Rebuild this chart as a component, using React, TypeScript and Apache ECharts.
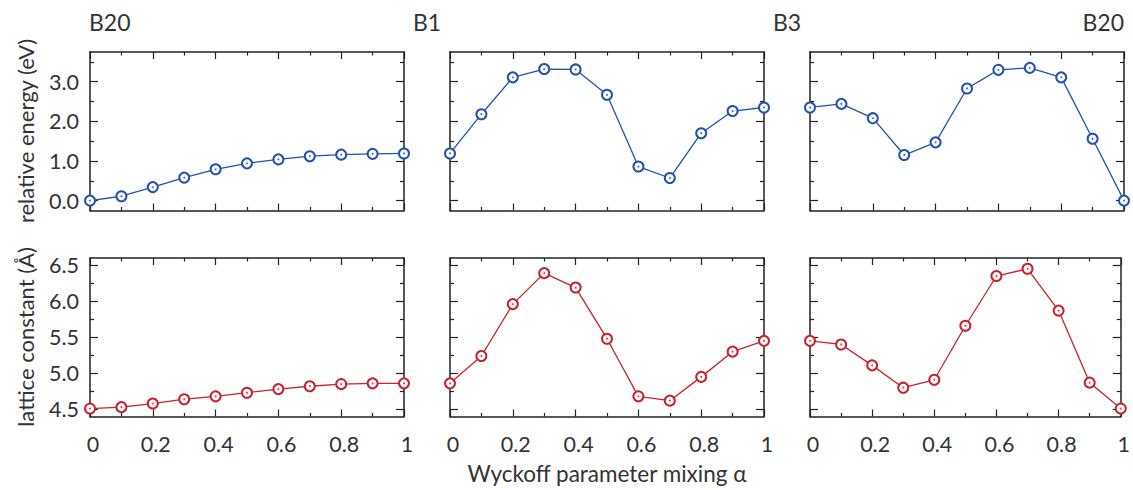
import React, { useEffect, useRef } from "react";
import * as echarts from "echarts";

const alpha = [0, 0.1, 0.2, 0.3, 0.4, 0.5, 0.6, 0.7, 0.8, 0.9, 1.0];

const energyB20B1 = [0.0, 0.11, 0.34, 0.58, 0.79, 0.94, 1.04, 1.12, 1.16, 1.18, 1.19];
const energyB1B3 = [1.19, 2.18, 3.11, 3.32, 3.31, 2.67, 0.86, 0.57, 1.7, 2.26, 2.35];
const energyB3B20 = [2.35, 2.44, 2.08, 1.15, 1.47, 2.83, 3.3, 3.35, 3.11, 1.56, 0.0];

const latticeB20B1 = [4.51, 4.53, 4.58, 4.64, 4.68, 4.73, 4.78, 4.82, 4.85, 4.86, 4.86];
const latticeB1B3 = [4.86, 5.24, 5.96, 6.39, 6.19, 5.48, 4.68, 4.62, 4.95, 5.3, 5.45];
const latticeB3B20 = [5.45, 5.4, 5.11, 4.8, 4.91, 5.66, 6.35, 6.45, 5.87, 4.87, 4.51];

const energyMajor = [0, 1, 2, 3];
const energyMinor = [0.5, 1.5, 2.5, 3.5];
const latticeMajor = [4.5, 5.0, 5.5, 6.0, 6.5];
const latticeMinor = [4.75, 5.25, 5.75, 6.25];

const phaseLabels = ["B20", "B1", "B3", "B20"];
const yTitles = ["relative energy (eV)", "lattice constant (Å)"];
const xTitle = "Wyckoff parameter mixing α";

const FONT = "Lato, 'Open Sans', sans-serif";
const TEXT = "#333333";
const AXIS = "#222222";
const BLUE = "#2152ad";
const RED = "#c8222c";

const colLefts = [90, 450, 810];
const colWidth = 314;
const rowTops = [52, 258];
const rowHeight = 158.5;

export default function App() {
  const ref = useRef<HTMLDivElement>(null);

  useEffect(() => {
    if (!ref.current) return;
    const chart = echarts.init(ref.current, undefined, { renderer: "svg" });

    const rows = [
      {
        data: [energyB20B1, energyB1B3, energyB3B20],
        min: -0.25,
        max: 3.75,
        major: energyMajor,
        minor: energyMinor,
        color: BLUE,
        fmt: (v: number) => v.toFixed(1),
      },
      {
        data: [latticeB20B1, latticeB1B3, latticeB3B20],
        min: 4.4,
        max: 6.6,
        major: latticeMajor,
        minor: latticeMinor,
        color: RED,
        fmt: (v: number) => v.toFixed(1),
      },
    ];

    const grid: any[] = [];
    const xAxis: any[] = [];
    const yAxis: any[] = [];
    const series: any[] = [];

    rows.forEach((row, r) => {
      row.data.forEach((vals, c) => {
        const g = grid.length;
        grid.push({
          left: colLefts[c],
          top: rowTops[r],
          width: colWidth,
          height: rowHeight,
          containLabel: false,
        });
        const xIdx = xAxis.length;
        ["bottom", "top"].forEach((pos) => {
          xAxis.push({
            type: "value",
            gridIndex: g,
            position: pos,
            min: 0,
            max: 1,
            interval: 0.2,
            axisLine: { show: true, onZero: false, lineStyle: { color: AXIS, width: 1.5 } },
            axisTick: { show: true, inside: true, length: 7, lineStyle: { color: AXIS, width: 1.2 } },
            minorTick: { show: true, splitNumber: 2, length: 3.5, lineStyle: { color: AXIS, width: 1.2 } },
            splitLine: { show: false },
            minorSplitLine: { show: false },
            axisLabel: {
              show: pos === "bottom" && r === 1,
              margin: 16,
              fontSize: 21.5,
              color: TEXT,
              fontFamily: FONT,
              padding: [0, 0, 0, 6],
              formatter: (v: number) => {
                const k = Math.round(v * 10);
                if (k === 0) return "0";
                if (k === 10) return "1";
                return (k / 10).toFixed(1);
              },
            },
          });
        });
        const yIdx = yAxis.length;
        ["left", "right"].forEach((pos) => {
          yAxis.push({
            type: "value",
            gridIndex: g,
            position: pos,
            min: row.min,
            max: row.max,
            axisLine: { show: true, onZero: false, lineStyle: { color: AXIS, width: 1.5 } },
            axisTick: {
              show: true,
              inside: true,
              length: 8,
              customValues: row.major,
              lineStyle: { color: AXIS, width: 1.2 },
            },
            splitLine: { show: false },
            axisLabel: {
              show: pos === "left" && c === 0,
              customValues: row.major,
              margin: 11,
              fontSize: 21.5,
              color: TEXT,
              fontFamily: FONT,
              formatter: row.fmt,
            },
          });
        });
        ["left", "right"].forEach((pos) => {
          yAxis.push({
            type: "value",
            gridIndex: g,
            position: pos,
            min: row.min,
            max: row.max,
            axisLine: { show: false, onZero: false },
            axisTick: {
              show: true,
              inside: true,
              length: 4,
              customValues: row.minor,
              lineStyle: { color: AXIS, width: 1.2 },
            },
            splitLine: { show: false },
            axisLabel: { show: false },
          });
        });
        const pts = alpha.map((a, i) => [a, vals[i]]);
        series.push({
          type: "line",
          xAxisIndex: xIdx,
          yAxisIndex: yIdx,
          data: pts,
          clip: false,
          symbol: "emptyCircle",
          symbolSize: 10,
          showAllSymbol: true,
          lineStyle: { color: row.color, width: 1.3 },
          itemStyle: { color: row.color, borderColor: row.color, borderWidth: 1.5 },
          z: 3,
        });
        series.push({
          type: "scatter",
          xAxisIndex: xIdx,
          yAxisIndex: yIdx,
          data: pts,
          clip: false,
          symbol: "circle",
          symbolSize: 2,
          itemStyle: { color: row.color },
          z: 4,
        });
      });
    });

    const titleFont = `23px ${FONT}`;
    const nameFont = `22px ${FONT}`;
    const graphic: any[] = [
      {
        type: "text",
        x: 89,
        y: 22,
        style: { text: phaseLabels[0], font: titleFont, fill: TEXT, textAlign: "left", textVerticalAlign: "middle" },
      },
      {
        type: "text",
        x: 427,
        y: 22,
        style: { text: phaseLabels[1], font: titleFont, fill: TEXT, textAlign: "center", textVerticalAlign: "middle" },
      },
      {
        type: "text",
        x: 787,
        y: 22,
        style: { text: phaseLabels[2], font: titleFont, fill: TEXT, textAlign: "center", textVerticalAlign: "middle" },
      },
      {
        type: "text",
        x: 1124,
        y: 22,
        style: { text: phaseLabels[3], font: titleFont, fill: TEXT, textAlign: "right", textVerticalAlign: "middle" },
      },
      {
        type: "text",
        x: 25,
        y: 131,
        rotation: Math.PI / 2,
        style: { text: yTitles[0], font: nameFont, fill: TEXT, textAlign: "center", textVerticalAlign: "middle" },
      },
      {
        type: "text",
        x: 25,
        y: 337,
        rotation: Math.PI / 2,
        style: { text: yTitles[1], font: nameFont, fill: TEXT, textAlign: "center", textVerticalAlign: "middle" },
      },
      {
        type: "text",
        x: 607,
        y: 473,
        style: { text: xTitle, font: `22.5px ${FONT}`, fill: TEXT, textAlign: "center", textVerticalAlign: "middle" },
      },
    ];

    chart.setOption({
      animation: false,
      backgroundColor: "#ffffff",
      grid,
      xAxis,
      yAxis,
      series,
      graphic,
    });

    return () => chart.dispose();
  }, []);

  return (
    <div
      ref={ref}
      style={{ position: "fixed", left: 0, top: 0, width: 1133, height: 490 }}
    />
  );
}
